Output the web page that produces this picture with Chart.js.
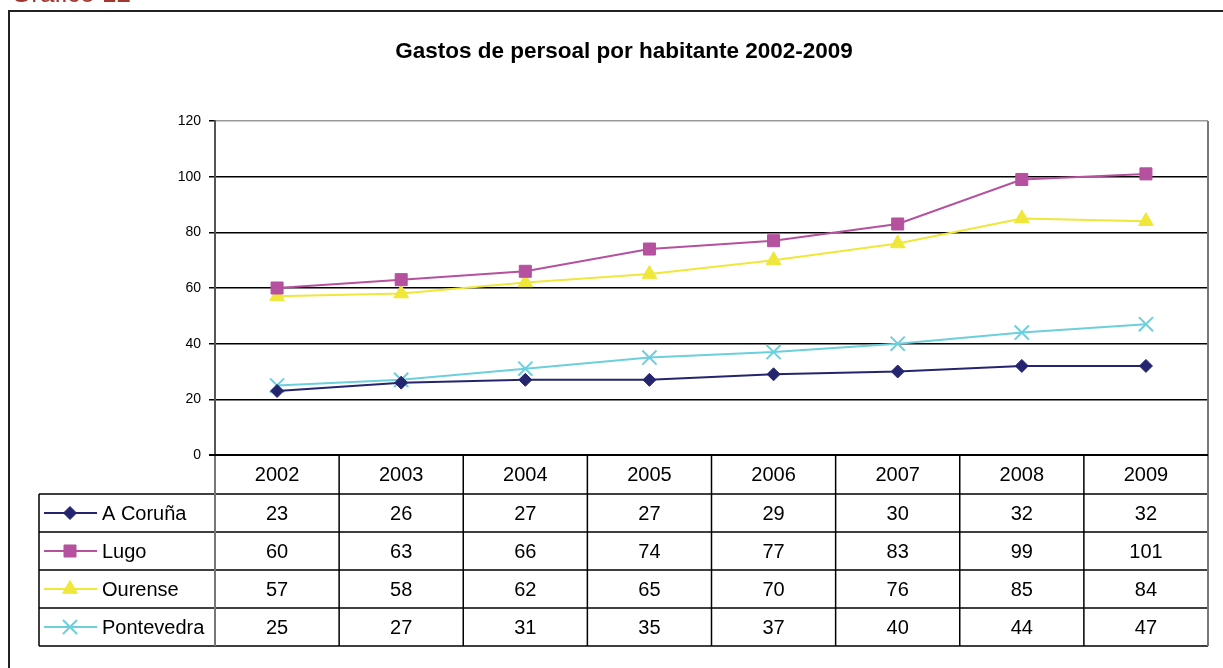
<!DOCTYPE html>
<html>
<head>
<meta charset="utf-8">
<script src="https://cdn.jsdelivr.net/npm/chart.js@4"></script>
<style>
  html, body { margin: 0; padding: 0; background: #fff; }
  canvas { display: block; }
</style>
</head>
<body>
<canvas id="chart" width="1223" height="668"></canvas>
<script>
// data
const years = ['2002', '2003', '2004', '2005', '2006', '2007', '2008', '2009'];
const coruna = [23, 26, 27, 27, 29, 30, 32, 32];
const lugo = [60, 63, 66, 74, 77, 83, 99, 101];
const ourense = [57, 58, 62, 65, 70, 76, 85, 84];
const pontevedra = [25, 27, 31, 35, 37, 40, 44, 47];
const yTicks = [0, 20, 40, 60, 80, 100, 120];

const FONT = '"Liberation Sans", Arial, sans-serif';
Chart.defaults.font.family = FONT;

// table under the plot, drawn from the x scale
const tablePlugin = {
    id: 'dataTable',
    afterDraw(chart) {
        const ctx = chart.ctx;
        const x = chart.scales.x;
        const area = chart.chartArea;
        const half = (area.right - area.left) / years.length / 2;
        const headTop = area.bottom;
        const headBottom = 494;
        const tableBottom = 646;
        const rowH = (tableBottom - headBottom) / chart.data.datasets.length;
        const legendLeft = 39;

        ctx.save();

        // outer frame and caption
        ctx.strokeStyle = '#222';
        ctx.lineWidth = 2;
        ctx.beginPath();
        ctx.moveTo(9, 700);
        ctx.lineTo(9, 11);
        ctx.lineTo(1240, 11);
        ctx.stroke();
        ctx.fillStyle = '#a3352f';
        ctx.font = '26px ' + FONT;
        ctx.textAlign = 'left';
        ctx.textBaseline = 'alphabetic';
        ctx.fillText('Gráfico 12', 11, 2);

        // horizontal rules
        ctx.strokeStyle = '#000';
        ctx.lineWidth = 1.5;
        ctx.beginPath();
        for (let i = 0; i <= chart.data.datasets.length; i++) {
            const yy = headBottom + i * rowH;
            ctx.moveTo(legendLeft, yy);
            ctx.lineTo(area.right, yy);
        }
        ctx.stroke();

        // vertical rules between years
        ctx.beginPath();
        for (let i = 1; i < years.length; i++) {
            const xx = x.getPixelForValue(i) - half;
            ctx.moveTo(xx, headTop);
            ctx.lineTo(xx, tableBottom);
        }
        ctx.moveTo(legendLeft, headBottom);
        ctx.lineTo(legendLeft, tableBottom);
        ctx.stroke();

        ctx.strokeStyle = '#777';
        ctx.lineWidth = 2;
        ctx.beginPath();
        ctx.moveTo(area.left, headTop);
        ctx.lineTo(area.left, tableBottom);
        ctx.moveTo(area.right, area.top);
        ctx.lineTo(area.right, tableBottom);
        ctx.stroke();

        // x axis line
        ctx.strokeStyle = '#000';
        ctx.lineWidth = 2;
        ctx.beginPath();
        ctx.moveTo(area.left - 6, area.bottom);
        ctx.lineTo(area.right, area.bottom);
        ctx.stroke();

        // text
        ctx.fillStyle = '#000';
        ctx.font = '20px ' + FONT;
        ctx.textBaseline = 'middle';
        ctx.textAlign = 'center';
        years.forEach((yr, i) => {
            ctx.fillText(yr, x.getPixelForValue(i), (headTop + headBottom) / 2 + 1);
        });
        chart.data.datasets.forEach((ds, r) => {
            const cy = headBottom + (r + 0.5) * rowH + 1;
            ctx.textAlign = 'center';
            ds.data.forEach((v, i) => {
                ctx.fillText(String(v), x.getPixelForValue(i), cy);
            });
            // legend key
            ctx.strokeStyle = ds.borderColor;
            ctx.lineWidth = 2;
            ctx.beginPath();
            ctx.moveTo(44, cy - 1);
            ctx.lineTo(97, cy - 1);
            ctx.stroke();
            ctx.fillStyle = ds.pointBackgroundColor;
            ctx.strokeStyle = ds.pointBorderColor;
            ctx.lineWidth = ds.pointBorderWidth;
            Chart.helpers.drawPoint(ctx, {
                pointStyle: ds.pointStyle,
                radius: ds.pointRadius,
                rotation: 0,
                borderWidth: ds.pointBorderWidth
            }, 70, cy - 1);
            ctx.fillStyle = '#000';
            ctx.textAlign = 'left';
            ctx.fillText(ds.label, 102, cy);
        });

        ctx.restore();
    }
};

const series = [
    { label: 'A Coruña', data: coruna, color: '#25256f', style: 'rectRot', radius: 6.5, fill: true },
    { label: 'Lugo', data: lugo, color: '#b5519e', style: 'rect', radius: 8.5, fill: true },
    { label: 'Ourense', data: ourense, color: '#efe73a', style: 'triangle', radius: 8.5, fill: true },
    { label: 'Pontevedra', data: pontevedra, color: '#6ccfdc', style: 'crossRot', radius: 10, fill: false }
];

new Chart(document.getElementById('chart'), {
    type: 'line',
    data: {
        labels: years,
        datasets: series.map(s => ({
            label: s.label,
            data: s.data,
            borderColor: s.color,
            backgroundColor: s.color,
            borderWidth: 2,
            pointStyle: s.style,
            pointRadius: s.radius,
            pointBackgroundColor: s.fill ? s.color : 'rgba(0,0,0,0)',
            pointBorderColor: s.color,
            pointBorderWidth: s.fill ? 1 : 2,
            tension: 0
        }))
    },
    options: {
        responsive: false,
        animation: false,
        devicePixelRatio: 1,
        layout: { padding: { left: 40, right: 15, top: 0, bottom: 213 } },
        plugins: {
            legend: { display: false },
            tooltip: { enabled: false },
            title: {
                display: true,
                text: 'Gastos de persoal por habitante 2002-2009',
                color: '#000',
                font: { size: 22.5, weight: 'bold', family: FONT },
                padding: { top: 38, bottom: 56 }
            }
        },
        scales: {
            x: {
                display: false,
                offset: true
            },
            y: {
                min: 0,
                max: 120,
                afterBuildTicks: (scale) => { scale.ticks = yTicks.map(v => ({ value: v })); },
                afterFit: (scale) => { scale.width = 175; },
                ticks: {
                    color: '#000',
                    font: { size: 14, family: FONT },
                    padding: 8
                },
                grid: {
                    color: (c) => (c.tick && c.tick.value === 120 ? '#999' : '#000'),
                    lineWidth: 1.5,
                    tickColor: '#000',
                    tickLength: 6
                },
                border: { display: true, color: '#555', width: 2 }
            }
        }
    },
    plugins: [tablePlugin]
});
</script>
</body>
</html>
